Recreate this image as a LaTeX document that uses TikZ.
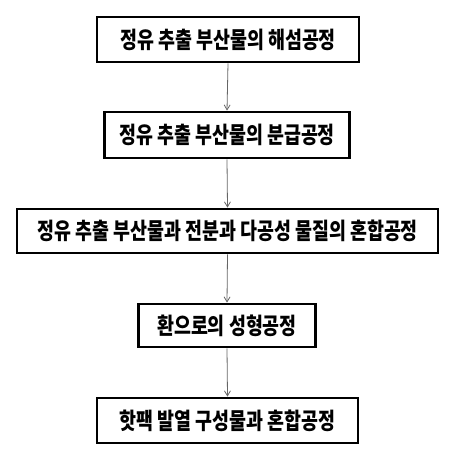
\documentclass[tikz,border=0pt]{standalone}
\usepackage{fontspec}
\newfontfamily\kr[FakeStretch=0.8]{Noto Sans CJK KR}
\usetikzlibrary{arrows.meta}
\begin{document}
\begin{tikzpicture}[x=1pt,y=-1pt,
  procbox/.style={draw=black,line width=2.8pt,fill=white,inner sep=0pt,
    font=\kr\bfseries\fontsize{23}{23}\selectfont,anchor=center},
  flow/.style={draw=black!60,line width=0.8pt,-{Straight Barb[length=5pt,width=6pt]}}]
\useasboundingbox (0,0) rectangle (450,460);
\node[procbox,minimum width=262pt,minimum height=45pt] (b1) at (228,39.5) {정유 추출 부산물의 해섬공정};
\node[procbox,minimum width=245pt,minimum height=46pt] (b2) at (227,135) {정유 추출 부산물의 분급공정};
\node[procbox,minimum width=421pt,minimum height=44pt] (b3) at (227.5,231) {정유 추출 부산물과 전분과 다공성 물질의 혼합공정};
\node[procbox,minimum width=177pt,minimum height=43pt] (b4) at (227,325.5) {환으로의 성형공정};
\node[procbox,minimum width=261pt,minimum height=45pt] (b5) at (227.5,420.5) {핫팩 발열 구성물과 혼합공정};
\draw[flow] (b1.south) -- (b2.north);
\draw[flow] (b2.south) -- (b3.north);
\draw[flow] (b3.south) -- (b4.north);
\draw[flow] (b4.south) -- (b5.north);
\end{tikzpicture}
\end{document}
